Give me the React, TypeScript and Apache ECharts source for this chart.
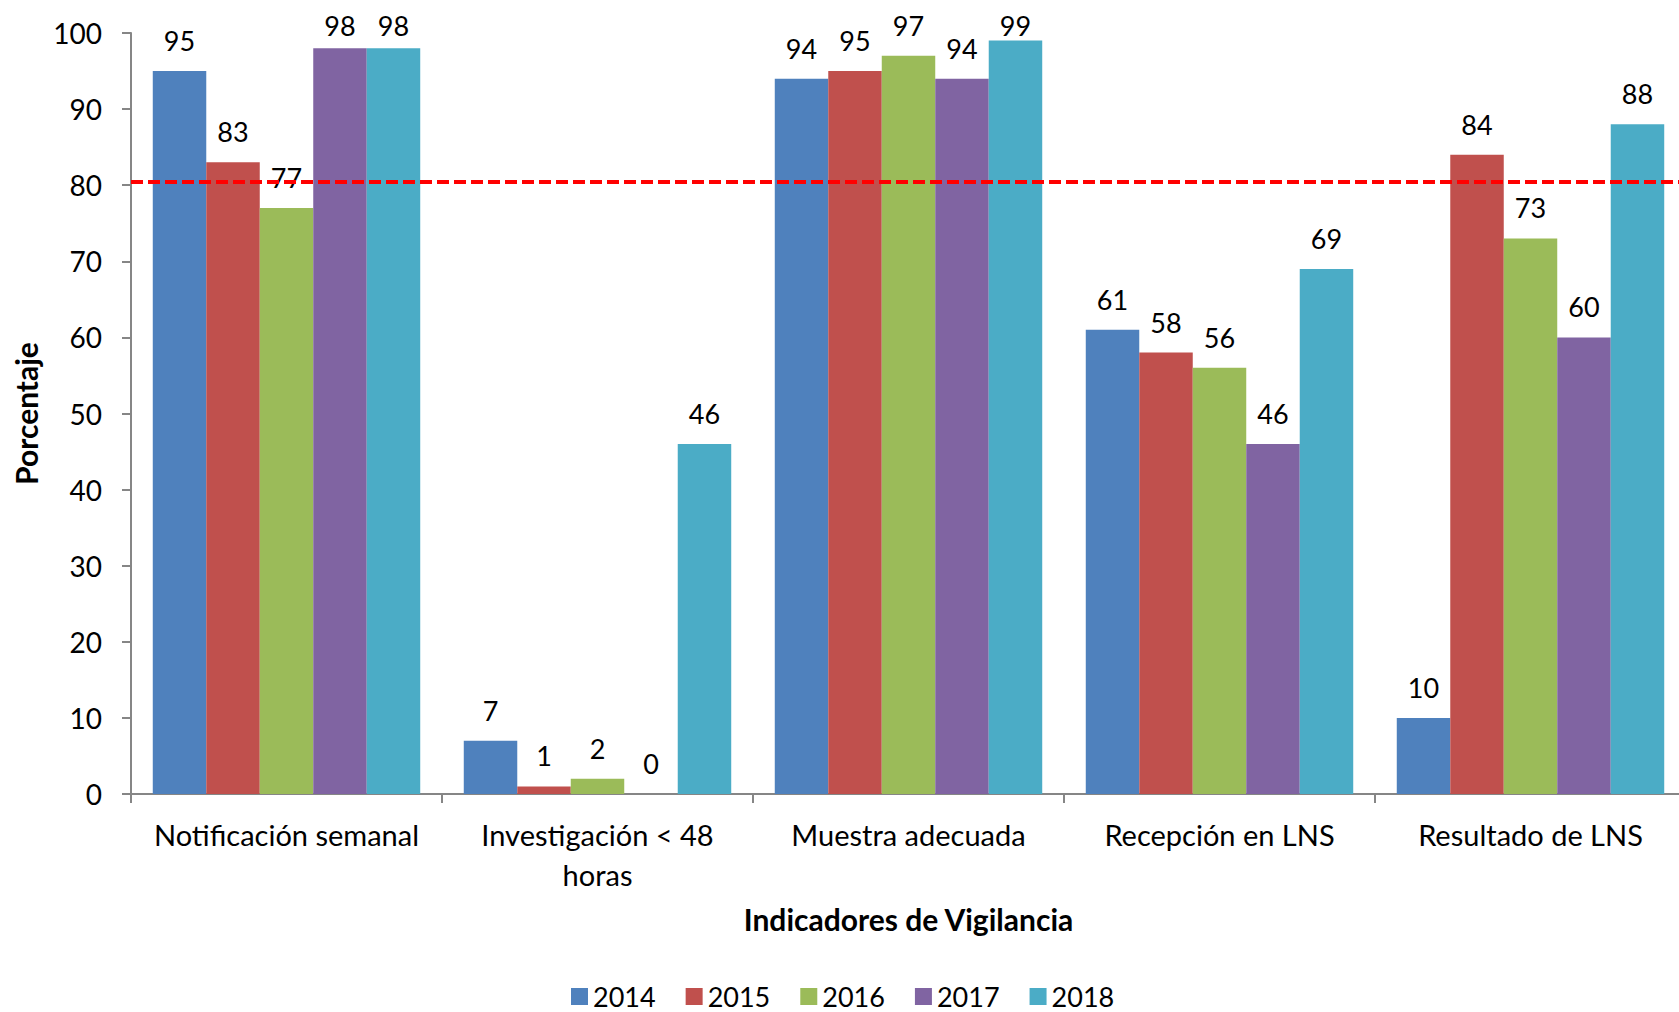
import React, { useEffect, useRef } from "react";
import * as echarts from "echarts";

const categories = [
  "Notificación semanal",
  "Investigación < 48\nhoras",
  "Muestra adecuada",
  "Recepción en LNS",
  "Resultado de LNS",
];
const years = ["2014", "2015", "2016", "2017", "2018"];
const v2014 = [95, 7, 94, 61, 10];
const v2015 = [83, 1, 95, 58, 84];
const v2016 = [77, 2, 97, 56, 73];
const v2017 = [98, 0, 94, 46, 60];
const v2018 = [98, 46, 99, 69, 88];
const seriesValues = [v2014, v2015, v2016, v2017, v2018];
const colors = ["#4F81BD", "#C0504D", "#9BBB59", "#8064A2", "#4BACC6"];
const targetLine = 80.5;

const FONT = "Lato";
const GRID_TOP = 33;
const GRID_H = 761;
const LABEL_DIST = 17;
const LABEL_MIN_CENTER = 23;

export default function App() {
  const ref = useRef<HTMLDivElement>(null);
  useEffect(() => {
    if (!ref.current) return;
    const chart = echarts.init(ref.current, undefined, { renderer: "svg" });
    const series: any[] = seriesValues.map((vals, i) => ({
      name: years[i],
      type: "bar",
      data: vals.map((v) => {
        // keep labels inside the chart area like the original (labels near top are pushed down)
        const barTop = GRID_TOP + GRID_H * (1 - v / 100);
        const center = barTop - LABEL_DIST - 16;
        const shift = center < LABEL_MIN_CENTER ? LABEL_MIN_CENTER - center : 0;
        return shift > 0 ? { value: v, label: { offset: [0, shift] } } : v;
      }),
      barGap: "0%",
      barCategoryGap: "14%",
      itemStyle: { color: colors[i] },
      label: {
        show: true,
        position: "top",
        distance: LABEL_DIST,
        color: "#000",
        fontFamily: FONT,
        fontSize: 27,
      },
      z: 2,
    }));
    series[0].markLine = {
      silent: true,
      symbol: ["none", "none"],
      label: { show: false },
      lineStyle: { color: "#FF0000", type: [12, 5], width: 4 },
      data: [{ yAxis: targetLine }],
      z: 10,
    };
    chart.setOption({
      animation: false,
      backgroundColor: "#fff",
      textStyle: { fontFamily: FONT },
      legend: {
        left: 571,
        top: 983,
        padding: 0,
        itemWidth: 17,
        itemHeight: 17,
        itemGap: 30,
        icon: "rect",
        textStyle: { fontFamily: FONT, fontSize: 27, color: "#000", lineHeight: 24 },
        data: years,
      },
      grid: { left: 131, top: GRID_TOP, width: 1555, height: GRID_H, containLabel: false },
      xAxis: {
        type: "category",
        data: categories,
        name: "Indicadores de Vigilancia",
        nameLocation: "middle",
        nameGap: 110,
        nameTextStyle: { fontFamily: FONT, fontSize: 30, fontWeight: "bold", color: "#000" },
        axisLine: { lineStyle: { color: "#868686", width: 2 } },
        axisTick: { show: true, length: 9, interval: 0, lineStyle: { color: "#868686", width: 2 } },
        axisLabel: {
          interval: 0,
          margin: 20,
          fontFamily: FONT,
          fontSize: 29,
          color: "#000",
          lineHeight: 40,
        },
      },
      yAxis: {
        type: "value",
        min: 0,
        max: 100,
        interval: 10,
        name: "Porcentaje",
        nameLocation: "middle",
        nameGap: 90,
        nameTextStyle: { fontFamily: FONT, fontSize: 30, fontWeight: "bold", color: "#000" },
        splitLine: { show: false },
        axisLine: { show: true, lineStyle: { color: "#868686", width: 2 } },
        axisTick: { show: true, length: 9, lineStyle: { color: "#868686", width: 2 } },
        axisLabel: { margin: 29, fontFamily: FONT, fontSize: 28, color: "#000" },
      },
      series,
    });
    return () => chart.dispose();
  }, []);
  return (
    <div style={{ position: "fixed", left: 0, top: 0, width: 1679, height: 1012, overflow: "hidden" }}>
      <div ref={ref} style={{ position: "absolute", left: 0, top: 0, width: 1690, height: 1012 }} />
    </div>
  );
}
